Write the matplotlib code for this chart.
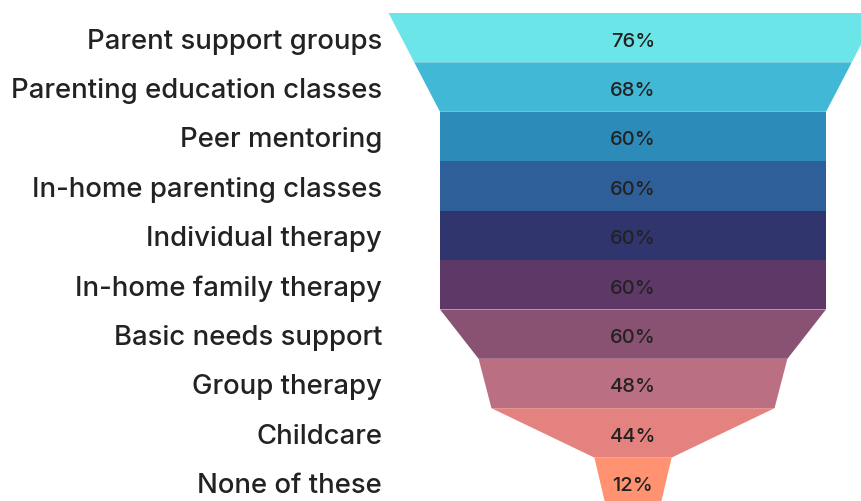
import matplotlib.pyplot as plt
from matplotlib.patches import Polygon

categories = ["Parent support groups", "Parenting education classes", "Peer mentoring",
              "In-home parenting classes", "Individual therapy", "In-home family therapy",
              "Basic needs support", "Group therapy", "Childcare", "None of these"]
values = [76, 68, 60, 60, 60, 60, 60, 48, 44, 12]
colors = ["#6ce5e8", "#41b8d5", "#2d8bba", "#2f5f98", "#31356e",
          "#5e3967", "#895273", "#ba7082", "#e3827f", "#ff9270"]

plt.rcParams['font.family'] = ['Inter', 'DejaVu Sans']

fig = plt.figure(figsize=(8.62, 5.02), dpi=100)
ax = fig.add_axes([0, 0, 1, 1])
ax.axis('off')

# bottom width of each segment = next value; last one tapers a bit
bottoms = values[1:] + [values[-1] * 0.7]

for i, (v, b, c) in enumerate(zip(values, bottoms, colors)):
    pts = [(-v / 2, i), (v / 2, i), (b / 2, i + 1), (-b / 2, i + 1)]
    ax.add_patch(Polygon(pts, closed=True, facecolor=c, edgecolor='none'))
    ax.text(0, i + 0.56, f"{v}%", ha='center', va='center', fontsize=14.5,
            fontweight='medium', color='#222222')
    ax.text(-39.0, i + 0.56, categories[i], ha='right', va='center', fontsize=19.8,
            fontweight='medium', color='#222222')

px = 386 / 60.0
ax.set_xlim(-633 / px, 229 / px)
ax.set_ylim((502 - 14) / 49.4, -14 / 49.4)

fig.savefig("out.png", dpi=100)
